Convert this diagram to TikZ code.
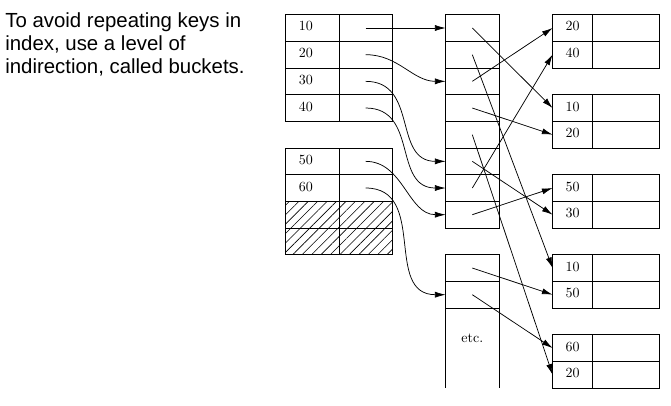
\documentclass[tikz,border=0pt]{standalone}
\usepackage{fontspec}
\newfontfamily\notefont{Liberation Sans}
\usetikzlibrary{positioning,arrows.meta,patterns.meta}

\begin{document}
\begin{tikzpicture}[
    x=20pt, y=-20pt,
    font=\fontsize{10.5pt}{12pt}\selectfont,
    keycell/.style={draw, line width=0.5pt, minimum width=40pt,
                    minimum height=20pt, inner ysep=0pt, inner xsep=10pt,
                    outer sep=0pt, text width=20pt, align=left,
                    text height=4.5pt, text depth=0pt},
    ptrcell/.style={draw, line width=0.5pt, minimum width=40pt,
                    minimum height=20pt, inner sep=0pt, outer sep=0pt},
    hatched/.style={ptrcell, pattern={Lines[angle=45,distance=5pt,
                    line width=0.45pt]}},
    bucket/.style={ptrcell},
    reckey/.style={draw, line width=0.5pt, minimum width=30pt,
                   minimum height=20pt, inner sep=0pt, outer sep=0pt,
                   text height=4.5pt, text depth=0pt},
    recval/.style={draw, line width=0.5pt, minimum width=50pt,
                   minimum height=20pt, inner sep=0pt, outer sep=0pt},
    ptr/.style={-{Latex[length=8pt,width=4.5pt]}, line width=0.55pt},
    note/.style={font=\notefont\fontsize{15.3pt}{17.5pt}\selectfont,
                 align=left, inner sep=0pt, anchor=north west},
]
\useasboundingbox (0,0) rectangle (25.16,15.22);

% Note
\node[note] (note) at (0.19,0.45)
    {To avoid repeating keys in\\index, use a level of\\indirection, called buckets.};

% Index, first block
\node[keycell, anchor=north west] (k1) at (10.71,0.55) {10};
\node[keycell, below=0pt of k1] (k2) {20};
\node[keycell, below=0pt of k2] (k3) {30};
\node[keycell, below=0pt of k3] (k4) {40};
\node[ptrcell, right=0pt of k1] (p1) {};
\node[ptrcell, right=0pt of k2] (p2) {};
\node[ptrcell, right=0pt of k3] (p3) {};
\node[ptrcell, right=0pt of k4] (p4) {};

% Index, second block
\node[keycell, anchor=north west] (k5) at (10.71,5.55) {50};
\node[keycell, below=0pt of k5] (k6) {60};
\node[hatched, below=0pt of k6] (h1) {};
\node[hatched, below=0pt of h1] (h2) {};
\node[ptrcell, right=0pt of k5] (p5) {};
\node[ptrcell, right=0pt of k6] (p6) {};
\node[hatched, right=0pt of h1] (h1v) {};
\node[hatched, right=0pt of h2] (h2v) {};

% Buckets, first block
\node[bucket, anchor=north west] (b1) at (16.71,0.55) {};
\node[bucket, below=0pt of b1] (b2) {};
\node[bucket, below=0pt of b2] (b3) {};
\node[bucket, below=0pt of b3] (b4) {};
\node[bucket, below=0pt of b4] (b5) {};
\node[bucket, below=0pt of b5] (b6) {};
\node[bucket, below=0pt of b6] (b7) {};
\node[bucket, below=0pt of b7] (b8) {};

% Buckets, second block
\node[bucket, anchor=north west] (c1) at (16.71,9.55) {};
\node[bucket, below=0pt of c1] (c2) {};
\node[minimum width=40pt, minimum height=60pt, inner sep=0pt,
      outer sep=0pt, below=0pt of c2] (cetc) {};
\draw[line width=0.5pt] (c2.south west) -- (cetc.south west)
    (c2.south east) -- (cetc.south east);
\node (etclabel) at ([yshift=-23pt]cetc.north) {etc.};

% Records
\node[reckey, anchor=north west] (rA1) at (20.72,0.55) {20};
\node[reckey, below=0pt of rA1] (rA2) {40};
\node[recval, right=0pt of rA1] (vA1) {};
\node[recval, right=0pt of rA2] (vA2) {};

\node[reckey, anchor=north west] (rB1) at (20.72,3.55) {10};
\node[reckey, below=0pt of rB1] (rB2) {20};
\node[recval, right=0pt of rB1] (vB1) {};
\node[recval, right=0pt of rB2] (vB2) {};

\node[reckey, anchor=north west] (rC1) at (20.72,6.55) {50};
\node[reckey, below=0pt of rC1] (rC2) {30};
\node[recval, right=0pt of rC1] (vC1) {};
\node[recval, right=0pt of rC2] (vC2) {};

\node[reckey, anchor=north west] (rD1) at (20.72,9.55) {10};
\node[reckey, below=0pt of rD1] (rD2) {50};
\node[recval, right=0pt of rD1] (vD1) {};
\node[recval, right=0pt of rD2] (vD2) {};

\node[reckey, anchor=north west] (rE1) at (20.72,12.55) {60};
\node[reckey, below=0pt of rE1] (rE2) {20};
\node[recval, right=0pt of rE1] (vE1) {};
\node[recval, right=0pt of rE2] (vE2) {};

% Index to buckets
\draw[ptr] (p1.center) -- (b1.west);
\draw[ptr] (p2.center) to[out=0, in=180] (b3.west);
\draw[ptr] (p3.center) to[out=0, in=180, looseness=1.2] (b6.west);
\draw[ptr] (p4.center) to[out=0, in=180, looseness=1.2] (b7.west);
\draw[ptr] (p5.center) to[out=0, in=180] (b8.west);
\draw[ptr] (p6.center) to[out=0, in=180, looseness=1.2] (c2.west);

% Buckets to records
\draw[ptr] (b1.center) -- (rB1.west);
\draw[ptr] (b2.center) -- (rD1.west);
\draw[ptr] (b3.center) -- (rA1.west);
\draw[ptr] (b4.center) -- (rB2.west);
\draw[ptr] (b5.center) -- (rE2.west);
\draw[ptr] (b6.center) -- (rC2.west);
\draw[ptr] (b7.center) -- (rA2.west);
\draw[ptr] (b8.center) -- (rC1.west);
\draw[ptr] (c1.center) -- (rD2.west);
\draw[ptr] (c2.center) -- (rE1.west);

\end{tikzpicture}
\end{document}
